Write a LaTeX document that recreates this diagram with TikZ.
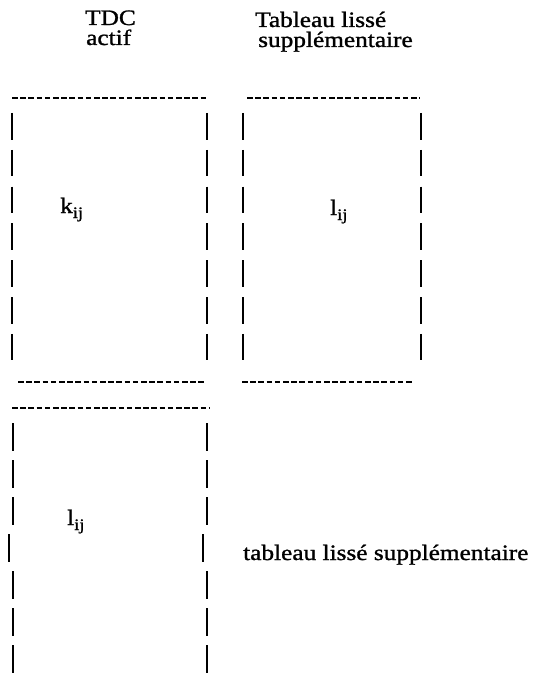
\documentclass[tikz,border=0pt]{standalone}
\usepackage{fontspec}
\setmainfont{Liberation Serif}[FakeStretch=1.15,FakeBold=1.2]
\begin{document}
\begin{tikzpicture}[x=1pt,y=-1pt,
  lbl/.style={anchor=base west,inner sep=0pt,font=\fontsize{22}{24}\selectfont},
  hline/.style={line width=1.8pt,dash pattern=on 5.5pt off 2.7pt},
  vseg/.style={line width=2.8pt}]
\useasboundingbox (0,0) rectangle (541,690);
% headings
\node[lbl] (tdc) at (85,25) {TDC};
\node[lbl] (actif) at (86,45) {actif};
\node[lbl] (tab) at (255,27) {Tableau lissé};
\node[lbl] (supp) at (258,47) {supplémentaire};
% horizontal dashed lines
\draw[hline] (12,98) -- (208,98);
\draw[hline] (18,382) -- (206,382);
\draw[hline] (247,98) -- (420,98);
\draw[hline] (242,382) -- (413,382);
\draw[hline] (12,408) -- (210,408);
% vertical dashed lines, boxes 1 and 2
\foreach \i in {0,...,6} {
  \pgfmathsetmacro{\ya}{113+36.8*\i}
  \pgfmathsetmacro{\yb}{\ya+26.5}
  \draw[vseg] (12,\ya) -- (12,\yb);
  \draw[vseg] (207,\ya) -- (207,\yb);
  \draw[vseg] (243,\ya) -- (243,\yb);
  \draw[vseg] (421,\ya) -- (421,\yb);
}
% vertical dashed lines, box 3
\foreach \i/\dx in {0/0,1/0,2/0,3/-4,4/0,5/0,6/0} {
  \pgfmathsetmacro{\ya}{423+37*\i}
  \pgfmathsetmacro{\yb}{\ya+27.5}
  \draw[vseg] (13+\dx,\ya) -- (13+\dx,\yb);
  \draw[vseg] (207+\dx,\ya) -- (207+\dx,\yb);
}
% cell labels
\node[lbl] (kij) at (60,213) {k\raisebox{-5pt}{\fontsize{16}{16}\selectfont ij}};
\node[lbl] (lij1) at (330,215) {l\raisebox{-5pt}{\fontsize{16}{16}\selectfont ij}};
\node[lbl] (lij2) at (67,525) {l\raisebox{-5pt}{\fontsize{16}{16}\selectfont ij}};
\node[lbl] (bottom) at (243,560) {tableau lissé supplémentaire};
\end{tikzpicture}
\end{document}
